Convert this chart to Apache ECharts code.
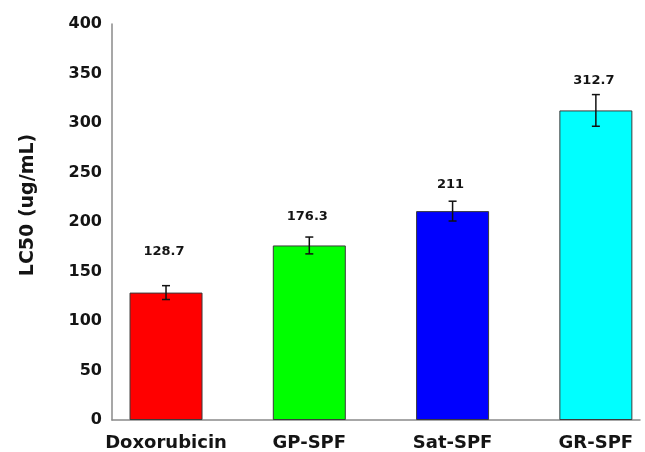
<!DOCTYPE html>
<html>
<head>
<meta charset="utf-8">
<script src="https://cdn.jsdelivr.net/npm/echarts@6/dist/echarts.min.js"></script>
<style>
  html, body { margin: 0; padding: 0; background: #fff; }
  #chart { width: 645px; height: 452px; }
</style>
</head>
<body>
<div id="chart"></div>
<script>
// LC50 per treatment, with standard-error bars
const categories = ['Doxorubicin', 'GP-SPF', 'Sat-SPF', 'GR-SPF'];
const lc50 = [128.7, 176.3, 211, 312.7];
const errors = [7, 8.5, 10, 16];
const barColors = ['#ff0000', '#00ff00', '#0000ff', '#00ffff'];
const yTicks = { min: 0, max: 400, step: 50 };

// extra space (px) between each error-bar cap and its value label
const labelLift = [34, 20, 17, 14];

const FONT = '"DejaVu Sans", Arial, sans-serif';
const TEXT = '#141414';
const AXIS = '#8a8a8a';

const chart = echarts.init(document.getElementById('chart'), null, { renderer: 'canvas' });

const barData = lc50.map((v, i) => ({
  value: [i, v],
  itemStyle: { color: barColors[i] }
}));
const errData = lc50.map((v, i) => [i, v, errors[i]]);

chart.setOption({
  animation: false,
  backgroundColor: '#ffffff',
  grid: { left: 112, right: 5, top: 24, bottom: 32, containLabel: false },
  xAxis: {
    type: 'value',
    min: -0.377,
    max: 3.308,
    splitLine: { show: false },
    axisTick: { show: false },
    axisLine: { show: true, onZero: false, lineStyle: { color: AXIS, width: 1.5 } },
    axisLabel: {
      customValues: [0, 1, 2, 3],
      formatter: v => categories[Math.round(v)],
      margin: 14,
      fontFamily: FONT,
      fontWeight: 'bold',
      fontSize: 18,
      color: TEXT
    }
  },
  yAxis: {
    type: 'value',
    min: yTicks.min,
    max: yTicks.max,
    interval: yTicks.step,
    splitLine: { show: false },
    axisTick: { show: false },
    axisLine: { show: true, onZero: false, lineStyle: { color: AXIS, width: 1.5 } },
    axisLabel: {
      margin: 10,
      fontFamily: FONT,
      fontWeight: 'bold',
      fontSize: 16,
      color: TEXT
    }
  },
  graphic: [{
    type: 'text',
    x: 28,
    y: 205,
    rotation: Math.PI / 2,
    style: {
      text: 'LC50 (ug/mL)',
      align: 'center',
      verticalAlign: 'middle',
      font: 'bold 19px ' + FONT,
      fill: TEXT
    }
  }],
  series: [
    {
      type: 'bar',
      data: barData,
      barWidth: 73,
      itemStyle: { borderColor: '#3a3a3a', borderWidth: 1 }
    },
    {
      type: 'custom',
      data: errData,
      z: 10,
      renderItem: function (params, api) {
        const x = api.value(0), v = api.value(1), e = api.value(2);
        const top = api.coord([x, v + e]);
        const bot = api.coord([x, v - e]);
        const cap = 4;
        const line = { stroke: '#111', lineWidth: 1.5 };
        return {
          type: 'group',
          children: [
            { type: 'line', shape: { x1: top[0], y1: top[1], x2: bot[0], y2: bot[1] }, style: line },
            { type: 'line', shape: { x1: top[0] - cap, y1: top[1], x2: top[0] + cap, y2: top[1] }, style: line },
            { type: 'line', shape: { x1: bot[0] - cap, y1: bot[1], x2: bot[0] + cap, y2: bot[1] }, style: line },
            {
              type: 'text',
              style: {
                text: String(v),
                x: top[0] - 2,
                y: top[1] - labelLift[params.dataIndex],
                align: 'center',
                verticalAlign: 'middle',
                font: 'bold 13px ' + FONT,
                fill: TEXT
              }
            }
          ]
        };
      }
    }
  ]
});
</script>
</body>
</html>
